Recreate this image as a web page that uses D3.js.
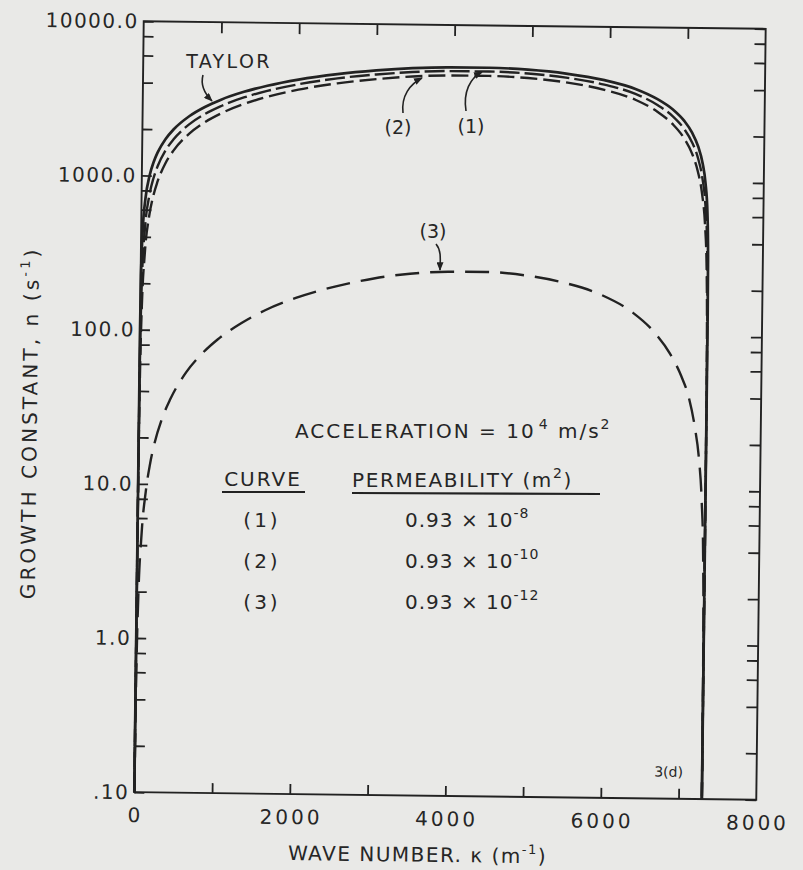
<!DOCTYPE html>
<html>
<head>
<meta charset="utf-8">
<script src="https://cdn.jsdelivr.net/npm/d3@7"></script>
<style>
  body { margin: 0; background: #e9e9e7; }
  svg { display: block; font-family: "DejaVu Sans", sans-serif; }
  text { fill: #262626; }
</style>
</head>
<body>
<div id="chart"></div>
<script>
var width = 803;
var height = 870;

// plot box, before the small tilt of the scan
var boxLeft = 139, boxRight = 761, boxTop = 25, boxBottom = 796;

// wave number, kappa (m^-1)
var waveNumbers = [0, 1, 5, 20, 50, 100, 150, 200, 300, 400, 600, 800, 1000, 1300, 1600, 2000, 2500, 3000,
  3465, 3955, 4450, 4950, 5440, 5935, 6335, 6620, 6820, 6970, 7070, 7150, 7210, 7250, 7280, 7295, 7299, 7300];

// growth constant n (1/s) for each curve
var taylor = [0.1, 100, 224, 447, 707, 1000, 1224, 1414, 1731, 1997, 2441, 2812, 3133, 3549, 3905, 4305, 4704, 5004,
  5208, 5315, 5317, 5201, 4945, 4510, 3983, 3432, 2947, 2483, 2094, 1706, 1329, 992, 631, 316, 141, 0.1];
var curve1 = [0.1, 16.2, 74, 239, 468, 744, 961, 1145, 1456, 1719, 2160, 2528, 2847, 3262, 3616, 4015, 4414, 4713,
  4917, 5023, 5025, 4910, 4654, 4220, 3695, 3145, 2662, 2200, 1816, 1432, 1062, 737, 399, 135, 31.5, 0.1];
var curve2 = [0.1, 7.7, 37, 139, 311, 543, 737, 906, 1199, 1450, 1876, 2236, 2550, 2958, 3308, 3703, 4099, 4396,
  4599, 4705, 4707, 4591, 4337, 3907, 3386, 2843, 2367, 1916, 1543, 1175, 829, 536, 256, 72.6, 15.2, 0.1];
var curve3 = [0.1, 0.1, 0.45, 1.79, 4.46, 8.9, 13.4, 17.9, 26.8, 35.5, 53.2, 70.5, 87.5, 112, 136, 165, 197, 224,
  242, 251, 252, 241, 218, 182, 141, 105, 77, 55, 40, 26, 16, 8.8, 3.5, 0.89, 0.18, 0.1];

// axis ticks and labels
var xMinorTicks = [1000, 2000, 3000, 4000, 5000, 6000, 7000];
var xLabelValues = [0, 2000, 4000, 6000, 8000];
var xTickLabels = ["0", "2000", "4000", "6000", "8000"];
var yDecades = [0.1, 1, 10, 100, 1000, 10000];
var yTickLabels = [".10", "1.0", "10.0", "100.0", "1000.0", "10000.0"];
var yMultipliers = [2, 4, 6, 8];

// legend table
var curveNames = ["(1)", "(2)", "(3)"];
var permMantissa = ["0.93 \u00d7 10", "0.93 \u00d7 10", "0.93 \u00d7 10"];
var permExponent = ["-8", "-10", "-12"];

var ink = "#222";

var svg = d3.select("#chart")
  .append("svg")
  .attr("width", width)
  .attr("height", height);

svg.append("rect")
  .attr("width", width)
  .attr("height", height)
  .attr("fill", "#e9e9e7");

svg.append("defs").append("marker")
  .attr("id", "arrow")
  .attr("viewBox", "0 0 10 8")
  .attr("refX", 9)
  .attr("refY", 4)
  .attr("markerWidth", 9)
  .attr("markerHeight", 7)
  .attr("markerUnits", "userSpaceOnUse")
  .attr("orient", "auto")
  .append("path")
  .attr("d", "M0,0 L10,4 L0,8 Z")
  .attr("fill", ink);

// the scanned figure sits slightly tilted on the page
var g = svg.append("g").attr("transform", "rotate(0.7,450,410)");

var xScale = d3.scaleLinear().domain([0, 8000]).range([boxLeft, boxRight]);
var yScale = d3.scaleLog().domain([0.1, 10000]).range([boxBottom, boxTop]);

var yTicks = [];
yDecades.forEach(function (d, i) {
  yTicks.push(d);
  if (i < yDecades.length - 1) {
    yMultipliers.forEach(function (m) { yTicks.push(d * m); });
  }
});

//ticks pointing into the frame
function addAxis(axis, tx, ty) {
  var a = g.append("g")
    .attr("transform", "translate(" + tx + "," + ty + ")")
    .call(axis);
  a.select(".domain").remove();
  a.selectAll("line").attr("stroke", ink).attr("stroke-width", 1.8);
}
addAxis(d3.axisBottom(xScale).tickValues(xMinorTicks).tickSize(-10).tickFormat(""), 0, boxBottom);
addAxis(d3.axisTop(xScale).tickValues(xMinorTicks).tickSize(-11).tickFormat(""), 0, boxTop);
addAxis(d3.axisLeft(yScale).tickValues(yTicks).tickSize(-10).tickFormat(""), boxLeft, 0);
addAxis(d3.axisRight(yScale).tickValues(yTicks).tickSize(-11).tickFormat(""), boxRight, 0);

g.append("rect")
  .attr("x", boxLeft)
  .attr("y", boxTop)
  .attr("width", boxRight - boxLeft)
  .attr("height", boxBottom - boxTop)
  .attr("fill", "none")
  .attr("stroke", ink)
  .attr("stroke-width", 1.9);

// tick labels
g.selectAll(".xlab")
  .data(xLabelValues)
  .enter()
  .append("text")
  .attr("class", "xlab")
  .attr("x", function (d) { return xScale(d) + 1.5; })
  .attr("y", boxBottom + 30)
  .attr("text-anchor", "middle")
  .attr("font-size", "20px")
  .attr("letter-spacing", "3px")
  .text(function (d, i) { return xTickLabels[i]; });

g.selectAll(".ylab")
  .data(yDecades)
  .enter()
  .append("text")
  .attr("class", "ylab")
  .attr("x", boxLeft - 5)
  .attr("y", function (d) { return yScale(d) + 7; })
  .attr("text-anchor", "end")
  .attr("font-size", "20px")
  .attr("letter-spacing", "1.5px")
  .text(function (d, i) { return yTickLabels[i]; });

// axis titles
var xTitle = g.append("text")
  .attr("x", 423)
  .attr("y", 862)
  .attr("text-anchor", "middle")
  .attr("font-size", "20px")
  .attr("letter-spacing", "1.5px");
xTitle.append("tspan").text("WAVE NUMBER. \u03ba (m");
xTitle.append("tspan").attr("font-size", "13px").attr("dy", -9).text("-1");
xTitle.append("tspan").attr("dy", 9).text(")");

var yTitle = g.append("text")
  .attr("transform", "translate(37,428)rotate(-90)")
  .attr("text-anchor", "middle")
  .attr("font-size", "20px")
  .attr("letter-spacing", "3.1px");
yTitle.append("tspan").text("GROWTH CONSTANT, n (s");
yTitle.append("tspan").attr("font-size", "13px").attr("dy", -9).text("-1");
yTitle.append("tspan").attr("dy", 9).text(")");

g.append("text")
  .attr("x", 673)
  .attr("y", 774)
  .attr("text-anchor", "middle")
  .attr("font-size", "14px")
  .text("3(d)");

// curves
var line = d3.line()
  .x(function (d) { return xScale(d[0]); })
  .y(function (d) { return yScale(d[1]); })
  .curve(d3.curveMonotoneX);

var series = [
  { values: curve3, dash: "24,11", w: 2.4 },
  { values: curve2, dash: "17,6", w: 2.4 },
  { values: curve1, dash: "20,5", w: 2.4 },
  { values: taylor, dash: null, w: 2.7 }
];

series.forEach(function (s) {
  var pts = waveNumbers.map(function (k, i) { return [k, s.values[i]]; });
  g.append("path")
    .datum(pts)
    .attr("d", line)
    .attr("fill", "none")
    .attr("stroke", ink)
    .attr("stroke-width", s.w)
    .attr("stroke-dasharray", s.dash);
});

// curve call-outs (page coordinates)
var callouts = [
  { label: "TAYLOR", tx: 229, ty: 68, ls: 2.4, d: "M203,75 C200,86 206,95 212,101" },
  { label: "(2)", tx: 398, ty: 134, ls: 0, d: "M403,113 C401,96 410,84 422,78" },
  { label: "(1)", tx: 471, ty: 133, ls: 0, d: "M466,111 C463,92 470,78 482,72" },
  { label: "(3)", tx: 433, ty: 238, ls: 0, d: "M436,244 C442,251 440,262 440,270" }
];
callouts.forEach(function (c) {
  svg.append("text")
    .attr("x", c.tx)
    .attr("y", c.ty)
    .attr("text-anchor", "middle")
    .attr("font-size", "19px")
    .attr("letter-spacing", c.ls + "px")
    .text(c.label);
  svg.append("path")
    .attr("d", c.d)
    .attr("fill", "none")
    .attr("stroke", ink)
    .attr("stroke-width", 1.6)
    .attr("marker-end", "url(#arrow)");
});

// legend block
var legend = svg.append("g")
  .attr("font-size", "20px")
  .attr("letter-spacing", "2px");

var accel = legend.append("text").attr("x", 295).attr("y", 438);
accel.append("tspan").text("ACCELERATION = 10");
accel.append("tspan").attr("font-size", "14px").attr("dy", -9).attr("dx", 3).text("4");
accel.append("tspan").attr("dy", 9).text(" m/s");
accel.append("tspan").attr("font-size", "14px").attr("dy", -9).text("2");

legend.append("text")
  .attr("x", 263)
  .attr("y", 486)
  .attr("text-anchor", "middle")
  .text("CURVE");
legend.append("line")
  .attr("x1", 222).attr("x2", 305)
  .attr("y1", 492).attr("y2", 492)
  .attr("stroke", ink).attr("stroke-width", 2.2);

var perm = legend.append("text").attr("x", 352).attr("y", 487).attr("letter-spacing", "1.6px");
perm.append("tspan").text("PERMEABILITY (m");
perm.append("tspan").attr("font-size", "14px").attr("dy", -9).text("2");
perm.append("tspan").attr("dy", 9).text(")");
legend.append("line")
  .attr("x1", 352).attr("x2", 600)
  .attr("y1", 493).attr("y2", 494)
  .attr("stroke", ink).attr("stroke-width", 2.2);

curveNames.forEach(function (name, i) {
  var y = 527 + i * 41;
  legend.append("text")
    .attr("x", 262)
    .attr("y", y)
    .attr("text-anchor", "middle")
    .attr("letter-spacing", "3px")
    .text(name);
  var t = legend.append("text")
    .attr("x", 405)
    .attr("y", y)
    .attr("letter-spacing", "1px");
  t.append("tspan").text(permMantissa[i]);
  t.append("tspan").attr("font-size", "14px").attr("dy", -9).text(permExponent[i]);
});
</script>
</body>
</html>
